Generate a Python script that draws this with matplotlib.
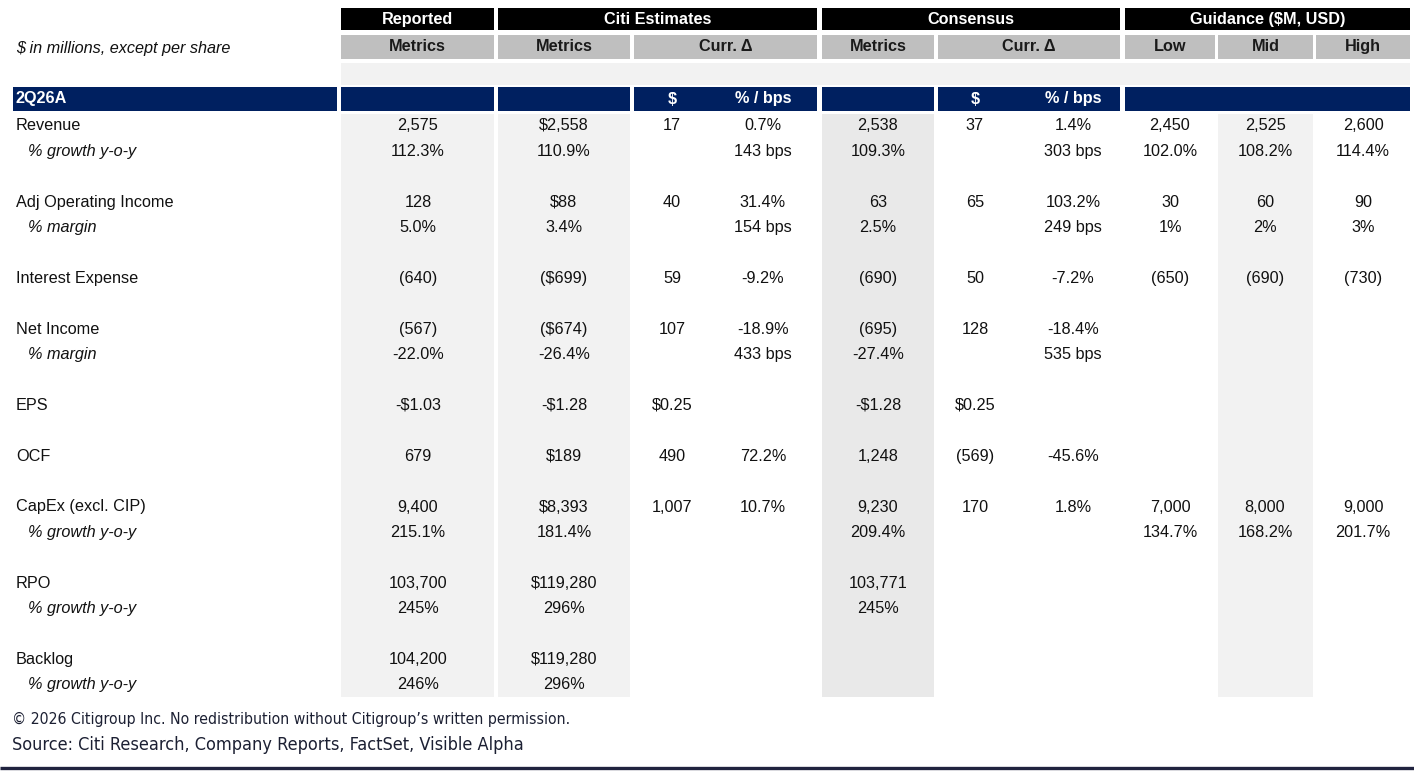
import matplotlib
matplotlib.use("Agg")
import os
import matplotlib.pyplot as plt
import matplotlib.font_manager as fm
from matplotlib.patches import Rectangle

# ---------------- data ----------------
row_labels = ["Revenue", "% growth y-o-y", "", "Adj Operating Income", "% margin", "",
              "Interest Expense", "", "Net Income", "% margin", "", "EPS", "", "OCF", "",
              "CapEx (excl. CIP)", "% growth y-o-y", "", "RPO", "% growth y-o-y", "",
              "Backlog", "% growth y-o-y"]
row_italic = [False, True, False, False, True, False, False, False, False, True, False,
              False, False, False, False, False, True, False, False, True, False, False, True]

reported = ["2,575", "112.3%", "", "128", "5.0%", "", "(640)", "", "(567)", "-22.0%", "",
            "-$1.03", "", "679", "", "9,400", "215.1%", "", "103,700", "245%", "", "104,200", "246%"]
citi_metrics = ["$2,558", "110.9%", "", "$88", "3.4%", "", "($699)", "", "($674)", "-26.4%", "",
                "-$1.28", "", "$189", "", "$8,393", "181.4%", "", "$119,280", "296%", "",
                "$119,280", "296%"]
citi_dollar = ["17", "", "", "40", "", "", "59", "", "107", "", "", "$0.25", "", "490", "",
               "1,007", "", "", "", "", "", "", ""]
citi_pct = ["0.7%", "143 bps", "", "31.4%", "154 bps", "", "-9.2%", "", "-18.9%", "433 bps", "",
            "", "", "72.2%", "", "10.7%", "", "", "", "", "", "", ""]
cons_metrics = ["2,538", "109.3%", "", "63", "2.5%", "", "(690)", "", "(695)", "-27.4%", "",
                "-$1.28", "", "1,248", "", "9,230", "209.4%", "", "103,771", "245%", "", "", ""]
cons_dollar = ["37", "", "", "65", "", "", "50", "", "128", "", "", "$0.25", "", "(569)", "",
               "170", "", "", "", "", "", "", ""]
cons_pct = ["1.4%", "303 bps", "", "103.2%", "249 bps", "", "-7.2%", "", "-18.4%", "535 bps", "",
            "", "", "-45.6%", "", "1.8%", "", "", "", "", "", "", ""]
guid_low = ["2,450", "102.0%", "", "30", "1%", "", "(650)", "", "", "", "", "", "", "", "",
            "7,000", "134.7%", "", "", "", "", "", ""]
guid_mid = ["2,525", "108.2%", "", "60", "2%", "", "(690)", "", "", "", "", "", "", "", "",
            "8,000", "168.2%", "", "", "", "", "", ""]
guid_high = ["2,600", "114.4%", "", "90", "3%", "", "(730)", "", "", "", "", "", "", "", "",
             "9,000", "201.7%", "", "", "", "", "", ""]

group_headers = ["Reported", "Citi Estimates", "Consensus", "Guidance ($M, USD)"]
sub_headers = ["Metrics", "Metrics", "Curr. \u0394", "Metrics", "Curr. \u0394", "Low", "Mid", "High"]
navy_labels = ["$", "% / bps"]
period = "2Q26A"
units_note = "$ in millions, except per share"
copyright_note = "\u00a9 2026 Citigroup Inc. No redistribution without Citigroup\u2019s written permission."
source_note = "Source: Citi Research, Company Reports, FactSet, Visible Alpha"

# ---------------- layout ----------------
W, H = 1414, 772
NAVY = "#002060"
GRAY = "#bfbfbf"
LIGHT = "#f2f2f2"
LIGHT2 = "#e9e9e9"
TXT = "#111111"
FONT = ["Liberation Sans", "DejaVu Sans"]
FS = 11.7


def pick_condensed():
    best = None
    for f in fm.fontManager.ttflist:
        base = os.path.basename(f.fname).lower()
        name = f.name.lower()
        cond = ("condensed" in base or "narrow" in base or "condensed" in name
                or "narrow" in name or str(f.stretch) in ("condensed", "semi-condensed"))
        if not cond or f.style != "normal":
            continue
        if "bold" in base or "semi" in base and "semicondensed" not in base:
            continue
        try:
            w = int(f.weight)
        except (TypeError, ValueError):
            w = 400 if f.weight in ("normal", "regular", "book") else 700
        score = abs(w - 400)
        if "extra" in base or "ultra" in base:
            score += 500
        if best is None or score < best[0]:
            best = (score, f.fname)
    if best is not None:
        return fm.FontProperties(fname=best[1])
    return fm.FontProperties(family=["Roboto", "DejaVu Sans"])


FOOT_FP = pick_condensed()

cols = {
    "rep": (341, 494),
    "cm": (498, 630),
    "cc": (634, 817),
    "km": (822, 934),
    "kc": (938, 1120),
    "lo": (1125, 1215),
    "mi": (1218, 1313),
    "hi": (1316, 1410),
}
groups = [(341, 494), (498, 817), (822, 1120), (1125, 1410)]
col_text_x = {
    "rep": 418, "cm": 564, "cd": 672, "cp": 763, "km": 878,
    "kd": 975, "kp": 1073, "lo": 1170, "mi": 1265, "hi": 1363,
}

fig = plt.figure(figsize=(W / 100, H / 100), dpi=100)
ax = fig.add_axes([0, 0, 1, 1])
ax.set_xlim(0, W)
ax.set_ylim(H, 0)
ax.axis("off")


def rect(x0, x1, y0, y1, color):
    ax.add_patch(Rectangle((x0, y0), x1 - x0, y1 - y0, facecolor=color, edgecolor="none", lw=0))


# header row 1 (black)
for (x0, x1), name in zip(groups, group_headers):
    rect(x0, x1, 8, 30, "black")
    ax.text((x0 + x1) / 2, 19.5, name, color="white", fontsize=FS, fontweight="bold",
            ha="center", va="center", family=FONT)

# header row 2 (gray)
for key, name in zip(["rep", "cm", "cc", "km", "kc", "lo", "mi", "hi"], sub_headers):
    x0, x1 = cols[key]
    rect(x0, x1, 35, 59, GRAY)
    ax.text((x0 + x1) / 2, 46.5, name, color="#1a1a1a", fontsize=FS, fontweight="bold",
            ha="center", va="center", family=FONT)
ax.text(16, 48, units_note, fontsize=FS, style="italic", ha="left", va="center",
        color=TXT, family=FONT)

# light gray band
rect(341, 1410, 63, 85, LIGHT)

# navy row
rect(13, 337, 87, 111, NAVY)
for key in ["rep", "cm", "cc", "km", "kc"]:
    x0, x1 = cols[key]
    rect(x0, x1, 87, 111, NAVY)
rect(1125, 1410, 87, 111, NAVY)
ax.text(16, 99, period, color="white", fontsize=FS, fontweight="bold", ha="left",
        va="center", family=FONT)
for kx in [("cd", "cp"), ("kd", "kp")]:
    for k, lab in zip(kx, navy_labels):
        ax.text(col_text_x[k], 99, lab, color="white", fontsize=FS, fontweight="bold",
                ha="center", va="center", family=FONT)

# data shading
rect(*cols["rep"], 114, 697, LIGHT)
rect(*cols["cm"], 114, 697, LIGHT)
rect(*cols["km"], 114, 697, LIGHT2)
rect(*cols["mi"], 114, 697, LIGHT)

# data rows
Y0, DY = 126, 25.4
series = [("rep", reported), ("cm", citi_metrics), ("cd", citi_dollar), ("cp", citi_pct),
          ("km", cons_metrics), ("kd", cons_dollar), ("kp", cons_pct),
          ("lo", guid_low), ("mi", guid_mid), ("hi", guid_high)]
for i, lab in enumerate(row_labels):
    y = Y0 + DY * i
    if lab:
        ax.text(16 + (12 if row_italic[i] else 0), y, lab, fontsize=FS,
                style="italic" if row_italic[i] else "normal", ha="left", va="center",
                color=TXT, family=FONT)
    for key, vals in series:
        if vals[i]:
            ax.text(col_text_x[key], y, vals[i], fontsize=FS, ha="center", va="center",
                    color=TXT, family=FONT)

# footer (font size fitted to the reference text widths)
renderer = fig.canvas.get_renderer()
for txt, y, target_w in [(copyright_note, 719.5, 556), (source_note, 745, 510)]:
    t = ax.text(12, y, txt, fontproperties=FOOT_FP, fontsize=12, ha="left", va="center",
                color="#1c2033")
    w = t.get_window_extent(renderer).width
    t.set_fontsize(12 * target_w / w)
ax.plot([0, W], [768, 768], color="#20233f", lw=2.4, solid_capstyle="butt")

fig.savefig("out.png", dpi=100)
